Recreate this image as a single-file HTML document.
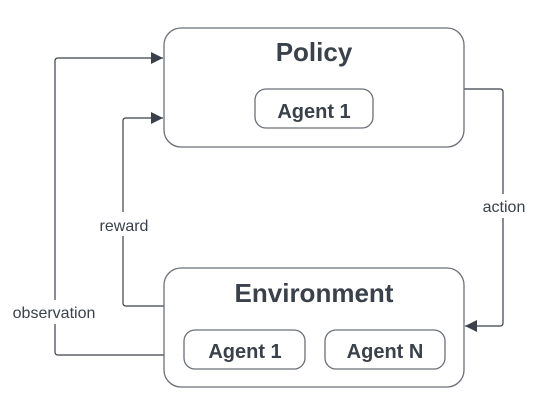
<!DOCTYPE html>
<html><head><style>
body{margin:0;background:#fff;width:552px;height:415px;overflow:hidden}
svg text{font-family:"Liberation Sans",sans-serif;fill:#3a414a}
</style></head><body>
<svg width="552" height="415" viewBox="0 0 552 415">
<defs><marker id="a" viewBox="0 0 10 10" refX="10" refY="5" markerWidth="17" markerHeight="12" markerUnits="userSpaceOnUse" orient="auto"><path d="M0,0 L10,5 L0,10 z" fill="#3a414a"/></marker></defs>
<g fill="none" stroke="#3a414a" stroke-width="1.2">
<path d="M164,355 H58 Q55,355 55,352 V61 Q55,58 58,58 H163" marker-end="url(#a)"/>
<path d="M164,306 H126 Q123,306 123,303 V121 Q123,118 126,118 H163" marker-end="url(#a)"/>
<path d="M464,89 H500 Q503,89 503,92 V323 Q503,326 500,326 H465" marker-end="url(#a)"/>
</g>
<g fill="#fff" stroke="#6b7078" stroke-width="1.3">
<rect x="164" y="28" width="300" height="119" rx="17"/>
<rect x="255" y="89" width="118" height="39" rx="11"/>
<rect x="164" y="268" width="300" height="119" rx="17"/>
<rect x="184" y="330" width="121" height="39" rx="11"/>
<rect x="325" y="330" width="120" height="39" rx="11"/>
</g>
<rect x="93" y="212" width="62" height="24" fill="#fff"/>
<rect x="5" y="300" width="100" height="24" fill="#fff"/>
<rect x="476" y="194" width="56" height="24" fill="#fff"/>
<g text-anchor="middle">
<text x="314" y="61" font-size="26" font-weight="bold">Policy</text>
<text x="314" y="118" font-size="20" font-weight="bold">Agent 1</text>
<text x="314" y="302" font-size="26" font-weight="bold">Environment</text>
<text x="245" y="358" font-size="20" font-weight="bold">Agent 1</text>
<text x="385" y="358" font-size="20" font-weight="bold">Agent N</text>
<text x="124" y="231" font-size="16">reward</text>
<text x="54" y="318" font-size="16">observation</text>
<text x="504" y="212" font-size="16">action</text>
</g>
</svg>
</body></html>
